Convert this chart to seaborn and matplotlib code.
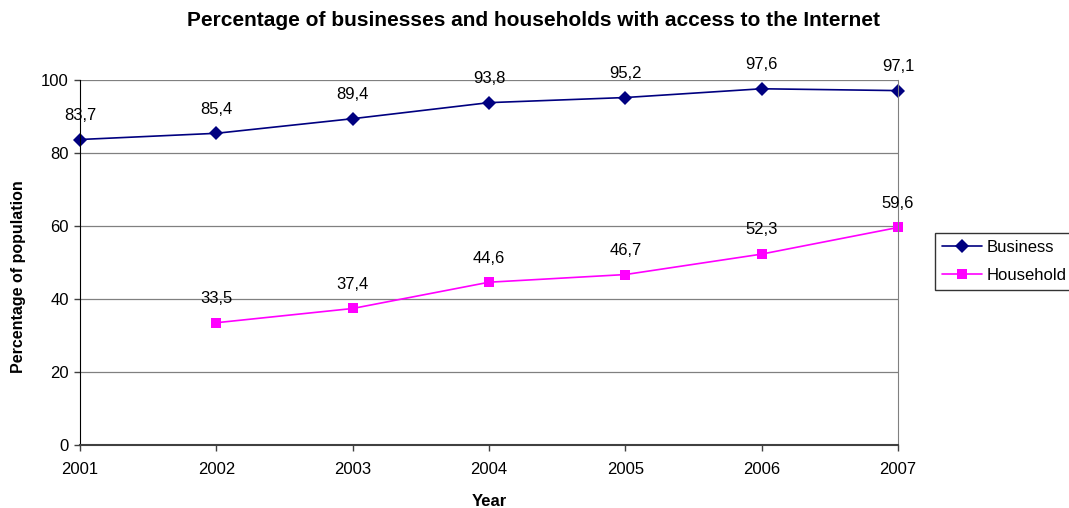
import numpy as np
import pandas as pd
import matplotlib
matplotlib.use("Agg")
import matplotlib.pyplot as plt
import seaborn as sns

sns.set_style("white")
plt.rcParams['font.family'] = ['Liberation Sans', 'DejaVu Sans']
plt.rcParams['text.color'] = 'black'
plt.rcParams['axes.labelcolor'] = 'black'

# data
years = [2001, 2002, 2003, 2004, 2005, 2006, 2007]
business = [83.7, 85.4, 89.4, 93.8, 95.2, 97.6, 97.1]
household = [np.nan, 33.5, 37.4, 44.6, 46.7, 52.3, 59.6]

df = pd.DataFrame({"Year": years, "Business": business, "Household": household})
df_long = df.melt(id_vars="Year", var_name="Series", value_name="Value").dropna()

fig = plt.figure(figsize=(10.69, 5.08), dpi=100)
ax = fig.add_axes([0.0748, 0.124, 0.7652, 0.7185])

palette = {"Business": "#000080", "Household": "#FF00FF"}
markers = {"Business": "D", "Household": "s"}
sns.lineplot(data=df_long, x="Year", y="Value", hue="Series", style="Series",
             palette=palette, markers=markers, dashes=False, markersize=7,
             markeredgewidth=0, linewidth=1.2, ax=ax, clip_on=False)

# data labels
for col in ["Business", "Household"]:
    for x, y in zip(df["Year"], df[col]):
        if np.isnan(y):
            continue
        ax.annotate(f"{y:.1f}".replace(".", ","), (x, y), xytext=(0, 12),
                    textcoords="offset points", ha="center", va="bottom", fontsize=12)

ax.set_xlim(2001, 2007)
ax.set_ylim(0, 100)
ax.set_xticks(years)
ax.set_yticks([0, 20, 40, 60, 80, 100])
ax.yaxis.grid(True, color="#808080", linewidth=0.9)
ax.set_axisbelow(True)
ax.tick_params(axis="both", labelsize=12, direction="out", length=4.5, width=1,
               bottom=True, left=True, color="#404040", labelcolor="black")
ax.tick_params(axis="x", pad=8)
ax.spines["top"].set_visible(False)
ax.spines["left"].set_color("black")
ax.spines["bottom"].set_color("#404040")
ax.spines["bottom"].set_linewidth(1.5)
ax.spines["right"].set_color("#808080")

ax.set_xlabel("Year", fontsize=12, fontweight="bold", labelpad=12)
ax.set_ylabel("Percentage of population", fontsize=11.5, fontweight="bold")
ax.yaxis.set_label_coords(-0.066, 0.46)
fig.suptitle("Percentage of businesses and households with access to the Internet",
             fontsize=15, fontweight="bold", x=0.499, y=0.978)

leg = ax.legend(title=None, loc="upper left", bbox_to_anchor=(935 / 1069, 1 - 233 / 508),
                bbox_transform=fig.transFigure, borderaxespad=0,
                frameon=True, fancybox=False, edgecolor="black", fontsize=12,
                borderpad=0.4, handlelength=2.4, handletextpad=0.3, labelspacing=0.8)
leg.get_frame().set_linewidth(1.0)

fig.savefig("out.png", dpi=100)
